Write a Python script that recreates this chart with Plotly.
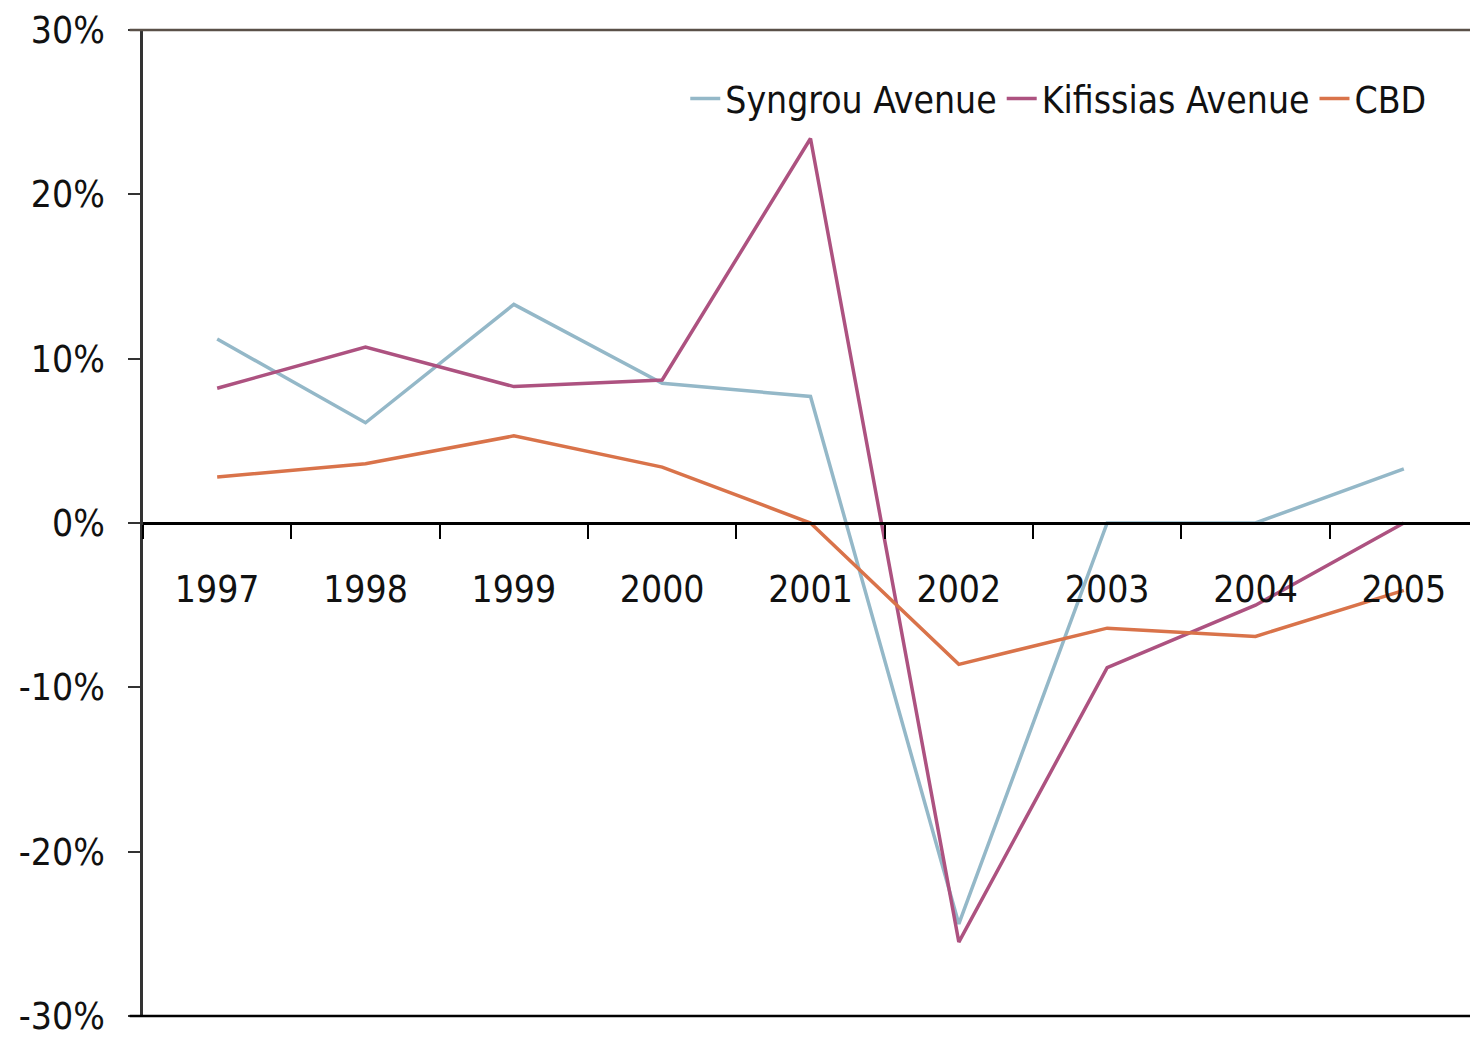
import plotly.graph_objects as go

years = ["1997", "1998", "1999", "2000", "2001", "2002", "2003", "2004", "2005"]
syngrou = [11.2, 6.1, 13.3, 8.5, 7.7, -24.4, 0.0, 0.0, 3.3]
kifissias = [8.2, 10.7, 8.3, 8.7, 23.4, -25.5, -8.8, -5.0, 0.0]
cbd = [2.8, 3.6, 5.3, 3.4, 0.0, -8.6, -6.4, -6.9, -4.1]

ytick_vals = [-30, -20, -10, 0, 10, 20, 30]
ytick_text = ["-30%", "-20%", "-10%", "0%", "10%", "20%", "30%"]

FONT = "DejaVu Sans Condensed, Liberation Sans Narrow, Arial Narrow, sans-serif"

fig = go.Figure()
fig.add_trace(go.Scatter(x=years, y=syngrou, mode="lines", name="Syngrou Avenue",
                         line=dict(color="#94b8c8", width=3.5)))
fig.add_trace(go.Scatter(x=years, y=kifissias, mode="lines", name="Kifissias Avenue",
                         line=dict(color="#ad5280", width=3.5)))
fig.add_trace(go.Scatter(x=years, y=cbd, mode="lines", name="CBD",
                         line=dict(color="#d9734a", width=3.5)))

fig.update_layout(
    width=1470, height=1030,
    margin=dict(l=135, r=0, t=22, b=18),
    paper_bgcolor="white", plot_bgcolor="white",
    font=dict(family=FONT, size=37, color="#111"),
    showlegend=True,
    legend=dict(orientation="h", x=0.965, xanchor="right", y=0.93, yanchor="middle",
                bgcolor="rgba(0,0,0,0)", font=dict(size=37), itemwidth=30,
                tracegroupgap=0),
    xaxis=dict(type="category", range=[-0.5, 8.5], anchor="free", position=0.5,
               showline=True, linecolor="black", linewidth=2.5,
               ticks="outside", tickson="boundaries", ticklen=14, tickwidth=2,
               tickcolor="black", showgrid=False, zeroline=False,
               ticklabelstandoff=33, tickfont=dict(size=37)),
    yaxis=dict(range=[-30, 30], tickvals=ytick_vals, ticktext=ytick_text,
               showline=True, linecolor="#333", linewidth=2.5,
               ticks="outside", ticklen=12, tickwidth=2, tickcolor="#333",
               showgrid=False, zeroline=False, ticklabelstandoff=16,
               ticklabeloverflow="allow", tickfont=dict(size=37)),
    shapes=[
        dict(type="line", xref="paper", yref="paper", x0=-0.01, x1=1, y0=1, y1=1,
             line=dict(color="#5a5048", width=2.5)),
        dict(type="line", xref="paper", yref="paper", x0=-0.01, x1=1, y0=0, y1=0,
             line=dict(color="black", width=2.5)),
    ],
)

fig.write_html("out.html")
